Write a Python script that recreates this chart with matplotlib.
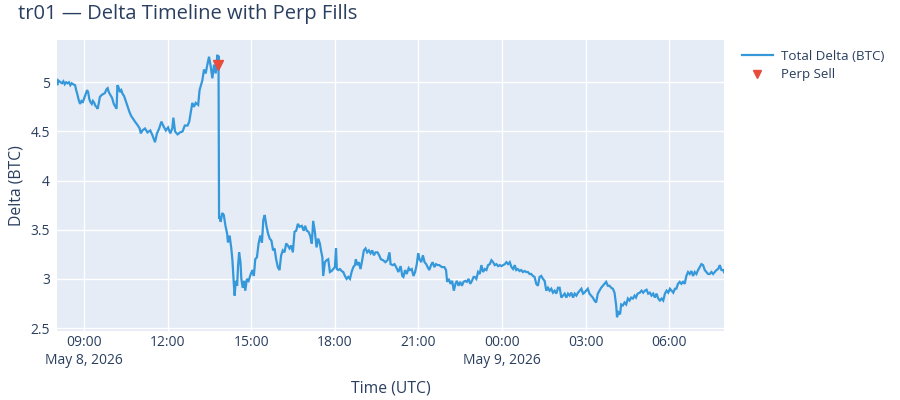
import matplotlib
matplotlib.use("Agg")
import matplotlib.pyplot as plt
import pandas as pd

# hours since 2026-05-08 08:00 UTC, total delta in BTC
hours = [
    0.02, 0.03, 0.06, 0.10, 0.15, 0.20, 0.25, 0.30, 0.35, 0.40,
    0.45, 0.50, 0.55, 0.60, 0.67, 0.71, 0.75, 0.80, 0.85, 0.90,
    0.95, 1.00, 1.05, 1.10, 1.14, 1.18, 1.22, 1.27, 1.31, 1.36,
    1.40, 1.44, 1.48, 1.53, 1.56, 1.62, 1.68, 1.74, 1.80, 1.84,
    1.88, 1.94, 2.00, 2.06, 2.12, 2.16, 2.19, 2.23, 2.28, 2.33,
    2.38, 2.43, 2.50, 2.56, 2.62, 2.68, 2.75, 2.82, 2.90, 2.99,
    # 11:00 - 13:50
    3.03, 3.09, 3.18, 3.27, 3.37, 3.45, 3.54, 3.61, 3.69, 3.77,
    3.85, 3.93, 4.01, 4.09, 4.16, 4.20, 4.26, 4.35, 4.44, 4.53,
    4.61, 4.71, 4.77, 4.83, 4.88, 4.94, 5.00, 5.09, 5.14, 5.18,
    5.24, 5.30, 5.36, 5.42, 5.48, 5.54, 5.60, 5.66, 5.72, 5.78,
    5.80, 5.82,
    # after the drop
    5.84, 5.87, 5.90, 5.95, 6.01, 6.07, 6.13, 6.16, 6.22, 6.28,
    6.32, 6.37, 6.40, 6.44, 6.49, 6.52, 6.56, 6.61, 6.64, 6.69,
    6.74, 6.78, 6.84, 6.90, 6.98, 7.04, 7.09, 7.14, 7.20, 7.26,
    7.32, 7.38, 7.43, 7.48, 7.54, 7.60, 7.66, 7.72, 7.78, 7.83,
    7.89, 7.95, 8.01, 8.07, 8.13, 8.19, 8.25, 8.31, 8.37, 8.43,
    8.49, 8.55, 8.61, 8.67, 8.73, 8.81, 8.88,
    # 17:00 - 20:00
    8.93, 8.99, 9.05, 9.11, 9.17, 9.22, 9.28, 9.34, 9.40, 9.46,
    9.50, 9.55, 9.58, 9.64, 9.70, 9.76, 9.82, 9.88, 9.94, 10.00,
    10.04, 10.07, 10.12, 10.18, 10.24, 10.30, 10.36, 10.42, 10.48, 10.54,
    10.60, 10.66, 10.72, 10.75, 10.81, 10.86, 10.92, 10.98, 11.04, 11.10,
    11.16, 11.22, 11.28, 11.34, 11.40, 11.46, 11.53, 11.59, 11.65, 11.73,
    11.81, 11.89,
    # 20:00 - 23:00
    11.96, 12.00, 12.08, 12.14, 12.20, 12.28, 12.36, 12.42, 12.46, 12.52,
    12.58, 12.65, 12.70, 12.76, 12.82, 12.88, 12.94, 12.99, 13.04, 13.10,
    13.16, 13.22, 13.28, 13.33, 13.39, 13.45, 13.51, 13.57, 13.63, 13.69,
    13.75, 13.84, 13.93, 13.99, 14.03, 14.09, 14.15, 14.21, 14.27, 14.33,
    14.38, 14.44, 14.50, 14.56, 14.62, 14.68, 14.74, 14.80, 14.86, 14.92,
    14.98,
    # 23:00 - 02:00
    15.02, 15.08, 15.14, 15.20, 15.26, 15.32, 15.38, 15.44, 15.50, 15.56,
    15.62, 15.68, 15.74, 15.80, 15.86, 15.92, 15.98, 16.04, 16.10, 16.16,
    16.22, 16.28, 16.34, 16.40, 16.46, 16.51, 16.57, 16.63, 16.69, 16.75,
    16.81, 16.87, 16.93, 16.99, 17.05, 17.11, 17.17, 17.23, 17.29, 17.35,
    17.41, 17.47, 17.53, 17.59, 17.65, 17.71, 17.77, 17.83, 17.89, 17.95,
    18.01,
    # 02:00 - 05:00
    18.07, 18.13, 18.19, 18.25, 18.31, 18.37, 18.43, 18.49, 18.55, 18.61,
    18.67, 18.73, 18.79, 18.85, 18.91, 18.96, 19.02, 19.08, 19.14, 19.20,
    19.26, 19.32, 19.38, 19.44, 19.50, 19.56, 19.62, 19.68, 19.74, 19.80,
    19.86, 19.92, 19.98, 20.04,
    20.10, 20.13, 20.18, 20.24, 20.28, 20.34, 20.40, 20.46, 20.52, 20.58,
    20.64, 20.70, 20.76, 20.81, 20.87,
    # 05:00 - 08:00
    20.95, 21.01, 21.07, 21.13, 21.19, 21.25, 21.31, 21.37, 21.43, 21.49,
    21.55, 21.61, 21.67, 21.73, 21.79, 21.85, 21.91, 21.97, 22.03, 22.09,
    22.15, 22.21, 22.26, 22.32, 22.38, 22.44, 22.50, 22.56, 22.62, 22.68,
    22.74, 22.80, 22.86, 22.92, 22.98, 23.04, 23.10, 23.16, 23.22, 23.28,
    23.34, 23.40, 23.46, 23.52, 23.58, 23.64, 23.70, 23.76, 23.82, 23.88,
    23.94, 23.97,
]

delta = [
    5.00, 4.97, 5.02, 5.01, 5.00, 4.99, 5.01, 4.98, 5.00, 4.99,
    5.00, 4.97, 4.99, 4.98, 4.97, 4.92, 4.88, 4.82, 4.78, 4.81,
    4.80, 4.84, 4.88, 4.92, 4.90, 4.83, 4.80, 4.78, 4.81, 4.79,
    4.76, 4.75, 4.73, 4.80, 4.85, 4.87, 4.88, 4.89, 4.93, 4.94,
    4.90, 4.87, 4.84, 4.78, 4.75, 4.73, 4.97, 4.95, 4.90, 4.92,
    4.88, 4.86, 4.80, 4.75, 4.70, 4.66, 4.63, 4.60, 4.57, 4.53,
    4.48, 4.51, 4.53, 4.49, 4.51, 4.46, 4.39, 4.48, 4.53, 4.60,
    4.55, 4.51, 4.54, 4.48, 4.53, 4.64, 4.50, 4.47, 4.49, 4.50,
    4.56, 4.56, 4.60, 4.70, 4.79, 4.75, 4.79, 4.77, 4.92, 4.96,
    5.02, 5.13, 5.09, 5.18, 5.26, 5.16, 5.04, 5.18, 5.09, 5.28,
    5.20, 5.27,
    3.61, 3.63, 3.58, 3.67, 3.65, 3.54, 3.46, 3.37, 3.44, 3.31,
    3.19, 2.95, 2.83, 2.98, 2.93, 3.12, 3.27, 3.17, 3.00, 2.91,
    2.98, 2.88, 3.00, 2.98, 3.05, 3.09, 3.03, 3.20, 3.22, 3.36,
    3.44, 3.37, 3.60, 3.65, 3.54, 3.46, 3.41, 3.39, 3.29, 3.31,
    3.20, 3.12, 3.09, 3.24, 3.29, 3.27, 3.36, 3.34, 3.31, 3.34,
    3.27, 3.48, 3.49, 3.56, 3.53, 3.54, 3.49,
    3.54, 3.49, 3.48, 3.44, 3.36, 3.59, 3.48, 3.32, 3.41, 3.36,
    3.29, 3.22, 3.03, 3.17, 3.19, 3.20, 3.07, 3.08, 3.10, 3.12,
    3.31, 3.10, 3.09, 3.10, 3.08, 3.07, 3.03, 3.00, 3.02, 3.00,
    3.07, 3.12, 3.14, 3.20, 3.14, 3.17, 3.10, 3.19, 3.29, 3.31,
    3.27, 3.29, 3.26, 3.29, 3.24, 3.27, 3.27, 3.24, 3.20, 3.19,
    3.17, 3.19,
    3.27, 3.15, 3.14, 3.15, 3.12, 3.07, 3.13, 3.03, 3.02, 3.09,
    3.05, 3.11, 3.09, 3.10, 3.03, 3.07, 3.15, 3.26, 3.20, 3.17,
    3.24, 3.17, 3.15, 3.12, 3.09, 3.14, 3.17, 3.12, 3.15, 3.14,
    3.14, 3.12, 3.12, 3.09, 2.97, 3.00, 2.95, 2.98, 2.88, 2.95,
    2.98, 2.93, 2.97, 2.93, 2.97, 2.98, 2.97, 3.00, 2.95, 2.98,
    3.02,
    3.02, 3.00, 3.07, 3.05, 3.14, 3.07, 3.10, 3.09, 3.14, 3.15,
    3.19, 3.17, 3.14, 3.15, 3.13, 3.14, 3.13, 3.14, 3.15, 3.17,
    3.15, 3.17, 3.12, 3.10, 3.14, 3.09, 3.10, 3.08, 3.09, 3.07,
    3.08, 3.07, 3.07, 3.05, 3.05, 3.03, 3.02, 2.95, 2.93, 3.02,
    3.03, 3.00, 2.98, 2.88, 2.91, 2.88, 2.90, 2.86, 2.88, 2.85,
    2.91,
    2.91, 2.81, 2.83, 2.85, 2.81, 2.85, 2.83, 2.86, 2.81, 2.85,
    2.83, 2.86, 2.88, 2.90, 2.85, 2.86, 2.88, 2.90, 2.85, 2.83,
    2.81, 2.78, 2.76, 2.85, 2.88, 2.91, 2.93, 2.95, 2.97, 2.93,
    2.93, 2.91, 2.90, 2.86,
    2.73, 2.61, 2.66, 2.64, 2.74, 2.73, 2.76, 2.74, 2.80, 2.78,
    2.81, 2.80, 2.83, 2.81, 2.85,
    2.86, 2.88, 2.86, 2.88, 2.89, 2.85, 2.86, 2.83, 2.85, 2.81,
    2.85, 2.80, 2.78, 2.80, 2.78, 2.85, 2.88, 2.86, 2.90, 2.88,
    2.86, 2.90, 2.90, 2.95, 2.97, 2.95, 2.97, 2.95, 3.03, 3.07,
    3.05, 3.08, 3.03, 3.07, 3.05, 3.09, 3.12, 3.15, 3.14, 3.09,
    3.07, 3.05, 3.05, 3.07, 3.05, 3.07, 3.09, 3.10, 3.14, 3.09,
    3.09, 3.07,
]
assert len(hours) == len(delta)

# perp fills
sell_hours = [5.815]
sell_delta = [5.18]

start = pd.Timestamp("2026-05-08 08:00")
times = start + pd.to_timedelta(hours, unit="h")
sell_times = start + pd.to_timedelta(sell_hours, unit="h")

tick_times = pd.date_range("2026-05-08 09:00", "2026-05-09 06:00", freq="3h")
tick_labels = []
for i, t in enumerate(tick_times):
    lab = t.strftime("%H:%M")
    if i == 0 or t.hour == 0:
        lab += f"\n{t:%b} {t.day}, {t.year}"
    tick_labels.append(lab)

txt = "#2a3f5f"
plt.rcParams["font.family"] = ["Open Sans", "DejaVu Sans"]

fig = plt.figure(figsize=(9, 4), dpi=100)
ax = fig.add_axes([0.0633, 0.1725, 0.7411, 0.7275])
ax.set_facecolor("#E5ECF6")
for s in ax.spines.values():
    s.set_visible(False)
ax.grid(True, color="white", linewidth=1)
ax.set_axisbelow(True)

ax.plot(times, delta, color="#3498db", linewidth=1.6,
        solid_joinstyle="miter", label="Total Delta (BTC)")
ax.plot(sell_times, sell_delta, linestyle="none", marker="v",
        markersize=7.5, color="#E74C3C", label="Perp Sell")

ax.set_xlim(times[0], times[-1])
ax.set_ylim(2.47, 5.43)
ax.set_yticks([2.5, 3, 3.5, 4, 4.5, 5])
ax.set_yticklabels(["2.5", "3", "3.5", "4", "4.5", "5"])
ax.set_xticks(tick_times)
ax.set_xticklabels(tick_labels, linespacing=1.3)
ax.tick_params(length=0, labelsize=10, labelcolor=txt)
ax.tick_params(axis="y", pad=5)
ax.tick_params(axis="x", pad=3)

ax.set_xlabel("Time (UTC)", fontsize=11.3, color=txt, labelpad=9)
ax.set_ylabel("Delta (BTC)", fontsize=11.3, color=txt, labelpad=4)

fig.text(0.02, 0.965, "tr01 \u2014 Delta Timeline with Perp Fills",
         fontsize=14.5, color=txt, va="center", ha="left")

leg = fig.legend(loc="upper left", bbox_to_anchor=(0.811, 0.905),
                 frameon=False, fontsize=9.6, handlelength=2.3,
                 handletextpad=0.6, labelspacing=0.4, labelcolor=txt,
                 markerscale=0.85)

fig.savefig("out.png", dpi=100)
